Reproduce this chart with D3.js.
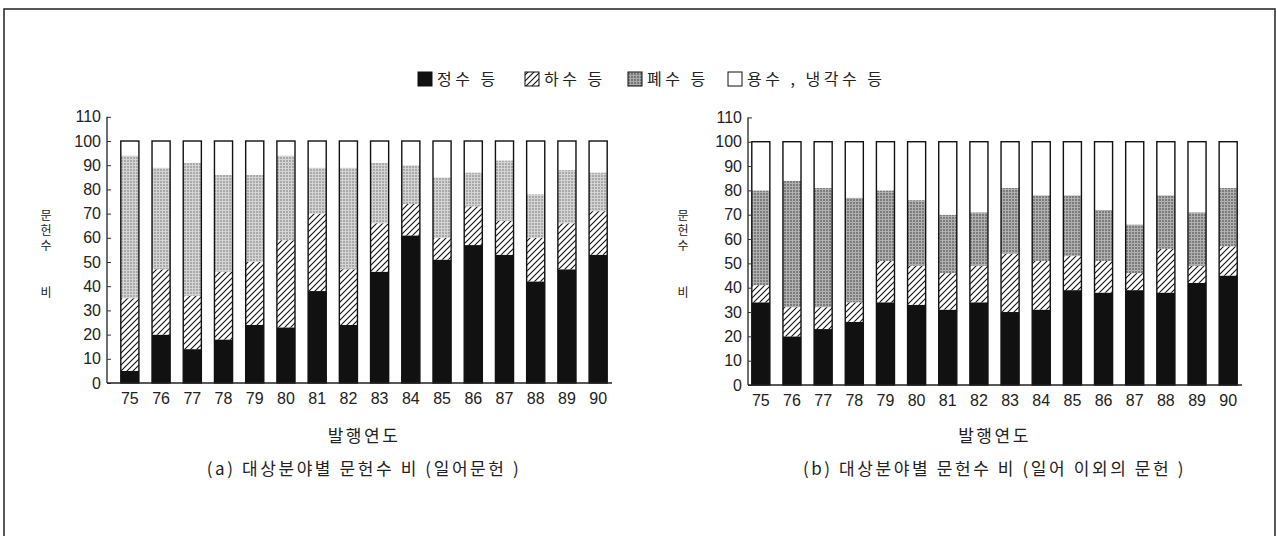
<!DOCTYPE html>
<html>
  <head>
    <meta charset="UTF-8">
    <style>
      body {
        margin: 0;
        background: #fff;
      }

      svg {
        display: block;
      }

      .tick text {
        font-family: 'Liberation Sans', Arial, sans-serif;
        font-size: 16px;
        fill: #222;
      }

      .kr {
        font-family: 'Noto Sans CJK KR', sans-serif;
        fill: #222;
      }
    </style>
    <script src="https://d3js.org/d3.v7.min.js"></script>
  </head>

  <body>
    <svg id="chart"></svg>

    <script type="text/javascript">
      let years = ['75', '76', '77', '78', '79', '80', '81', '82', '83', '84', '85', '86', '87', '88', '89', '90']
      let seriesNames = ['정수 등', '하수 등', '폐수 등', '용수 , 냉각수 등']
      let yTicks = [0, 10, 20, 30, 40, 50, 60, 70, 80, 90, 100, 110]

      // (a) 일어문헌
      let japanPurify = [5, 20, 14, 18, 24, 23, 38, 24, 46, 61, 51, 57, 53, 42, 47, 53]
      let japanSewage = [30, 27, 22, 28, 26, 36, 32, 23, 20, 13, 9, 16, 14, 18, 19, 18]
      let japanWaste = [59, 42, 55, 40, 36, 35, 19, 42, 25, 16, 25, 14, 25, 18, 22, 16]
      let japanCooling = [6, 11, 9, 14, 14, 6, 11, 11, 9, 10, 15, 13, 8, 22, 12, 13]

      // (b) 일어 이외의 문헌
      let otherPurify = [34, 20, 23, 26, 34, 33, 31, 34, 30, 31, 39, 38, 39, 38, 42, 45]
      let otherSewage = [7, 12, 9, 8, 17, 16, 15, 15, 24, 20, 14, 13, 7, 18, 7, 12]
      let otherWaste = [39, 52, 49, 43, 29, 27, 24, 22, 27, 27, 25, 21, 20, 22, 22, 24]
      let otherCooling = [20, 16, 19, 23, 20, 24, 30, 29, 19, 22, 22, 28, 34, 22, 29, 19]

      let captionA = '(a) 대상분야별 문헌수 비 (일어문헌 )'
      let captionB = '(b) 대상분야별 문헌수 비 (일어 이외의 문헌 )'
      let xTitle = '발행연도'

      function buildRows(purify, sewage, waste, cooling) {
        return years.map((y, i) => ({
          year: y,
          purify: purify[i],
          sewage: sewage[i],
          waste: waste[i],
          cooling: cooling[i]
        }))
      }

      let width = 1277
      let height = 536
      let svg = d3.select('#chart').attr('width', width).attr('height', height)
      let defs = svg.append('defs')

      function makeDefs() {
        let hatch = defs.append('pattern')
          .attr('id', 'hatch')
          .attr('patternUnits', 'userSpaceOnUse')
          .attr('width', 6)
          .attr('height', 6)
        hatch.append('rect').attr('width', 6).attr('height', 6).attr('fill', '#fff')
        hatch.append('path')
          .attr('d', 'M0,6 L6,0 M-1,1 L1,-1 M5,7 L7,5')
          .attr('stroke', '#111')
          .attr('stroke-width', 1.1)

        let greys = [['greyA', '#a9a9a9', '#d4d4d4'], ['greyB', '#7c7c7c', '#b0b0b0'], ['greyL', '#777', '#aaa']]
        greys.forEach(g => {
          let p = defs.append('pattern')
            .attr('id', g[0])
            .attr('patternUnits', 'userSpaceOnUse')
            .attr('width', 3)
            .attr('height', 3)
          p.append('rect').attr('width', 3).attr('height', 3).attr('fill', g[1])
          p.append('path')
            .attr('d', 'M0,0.5 H3 M0.5,0 V3')
            .attr('stroke', g[2])
            .attr('stroke-width', 1)
        })
      }

      function drawPanel(rows, cfg) {
        let keys = ['purify', 'sewage', 'waste', 'cooling']
        let fills = ['#111', 'url(#hatch)', `url(#${cfg.grey})`, '#fff']

        let xScale = d3.scaleBand()
          .domain(years)
          .range([cfg.x0, cfg.x1])
          .paddingInner(0.42)
          .paddingOuter(0.25)

        let yScale = d3.scaleLinear()
          .domain([0, 110])
          .range([cfg.y0, cfg.y1])

        let stacked = d3.stack().keys(keys)(rows)
        let g = svg.append('g')

        stacked.forEach((layer, k) => {
          g.append('g')
            .selectAll('rect')
            .data(layer)
            .join('rect')
            .attr('x', d => xScale(d.data.year))
            .attr('width', xScale.bandwidth())
            .attr('y', d => yScale(d[1]))
            .attr('height', d => yScale(d[0]) - yScale(d[1]))
            .attr('fill', fills[k])
        })

        // outline of each whole bar
        g.append('g')
          .selectAll('rect')
          .data(rows)
          .join('rect')
          .attr('x', d => xScale(d.year))
          .attr('width', xScale.bandwidth())
          .attr('y', yScale(100))
          .attr('height', yScale(0) - yScale(100))
          .attr('fill', 'none')
          .attr('stroke', '#111')
          .attr('stroke-width', 1.4)

        let axisY = d3.axisLeft(yScale)
          .tickValues(yTicks)
          .tickSize(-4)
          .tickPadding(6)

        let yAxis = svg.append('g')
          .attr('transform', `translate(${cfg.axisX}, 0)`)
          .call(axisY)
        yAxis.select('.domain').remove()
        yAxis.selectAll('.tick line').attr('stroke', '#333')
        yAxis.append('line')
          .attr('y1', yScale(0))
          .attr('y2', yScale(110))
          .attr('stroke', '#222')
          .attr('stroke-width', 1.3)

        let axisX = d3.axisBottom(xScale).tickSize(0).tickPadding(10)
        let xAxis = svg.append('g')
          .attr('transform', `translate(0, ${yScale(0)})`)
          .call(axisX)
        xAxis.select('.domain').remove()
        xAxis.append('line')
          .attr('x1', cfg.axisX)
          .attr('x2', cfg.axisEnd)
          .attr('stroke', '#222')
          .attr('stroke-width', 1.3)

        // vertical y title: 문헌수 ... 비
        let yTitle = ['문', '헌', '수']
        yTitle.forEach((c, i) => {
          svg.append('text')
            .attr('class', 'kr')
            .attr('x', cfg.labelX)
            .attr('y', 220 + i * 15)
            .attr('text-anchor', 'middle')
            .style('font-size', '12px')
            .text(c)
        })
        svg.append('text')
          .attr('class', 'kr')
          .attr('x', cfg.labelX)
          .attr('y', 297)
          .attr('text-anchor', 'middle')
          .style('font-size', '12px')
          .text('비')

        let mid = (cfg.x0 + cfg.x1) / 2
        svg.append('text')
          .attr('class', 'kr')
          .attr('x', mid)
          .attr('y', 442)
          .attr('text-anchor', 'middle')
          .style('font-size', '17px')
          .style('letter-spacing', '2.5px')
          .text(xTitle)

        svg.append('text')
          .attr('class', 'kr')
          .attr('x', mid)
          .attr('y', 475)
          .attr('text-anchor', 'middle')
          .style('font-size', '17px')
          .style('letter-spacing', '2.6px')
          .text(cfg.caption)
      }

      function drawLegend() {
        let fills = ['#111', 'url(#hatch)', 'url(#greyL)', '#fff']
        let xs = [418, 525, 628, 728]
        let y = 72
        let size = 14
        seriesNames.forEach((name, i) => {
          svg.append('rect')
            .attr('x', xs[i])
            .attr('y', y)
            .attr('width', size)
            .attr('height', size)
            .attr('fill', fills[i])
            .attr('stroke', '#111')
            .attr('stroke-width', 1)
          svg.append('text')
            .attr('class', 'kr')
            .attr('x', xs[i] + size + 5)
            .attr('y', y + 13)
            .style('font-size', '16px')
            .style('letter-spacing', '3.5px')
            .text(name)
        })
      }

      function drawFrame() {
        svg.append('path')
          .attr('d', `M4,${height} V9 H1275 V${height}`)
          .attr('fill', 'none')
          .attr('stroke', '#222')
          .attr('stroke-width', 1.5)
      }

      makeDefs()
      drawFrame()
      drawLegend()

      drawPanel(buildRows(japanPurify, japanSewage, japanWaste, japanCooling), {
        x0: 113, x1: 615, y0: 383, y1: 116.8,
        axisX: 107, axisEnd: 612, labelX: 46,
        grey: 'greyA', caption: captionA
      })

      drawPanel(buildRows(otherPurify, otherSewage, otherWaste, otherCooling), {
        x0: 744, x1: 1245, y0: 385, y1: 117.4,
        axisX: 748, axisEnd: 1242, labelX: 683,
        grey: 'greyB', caption: captionB
      })
    </script>
  </body>
</html>
